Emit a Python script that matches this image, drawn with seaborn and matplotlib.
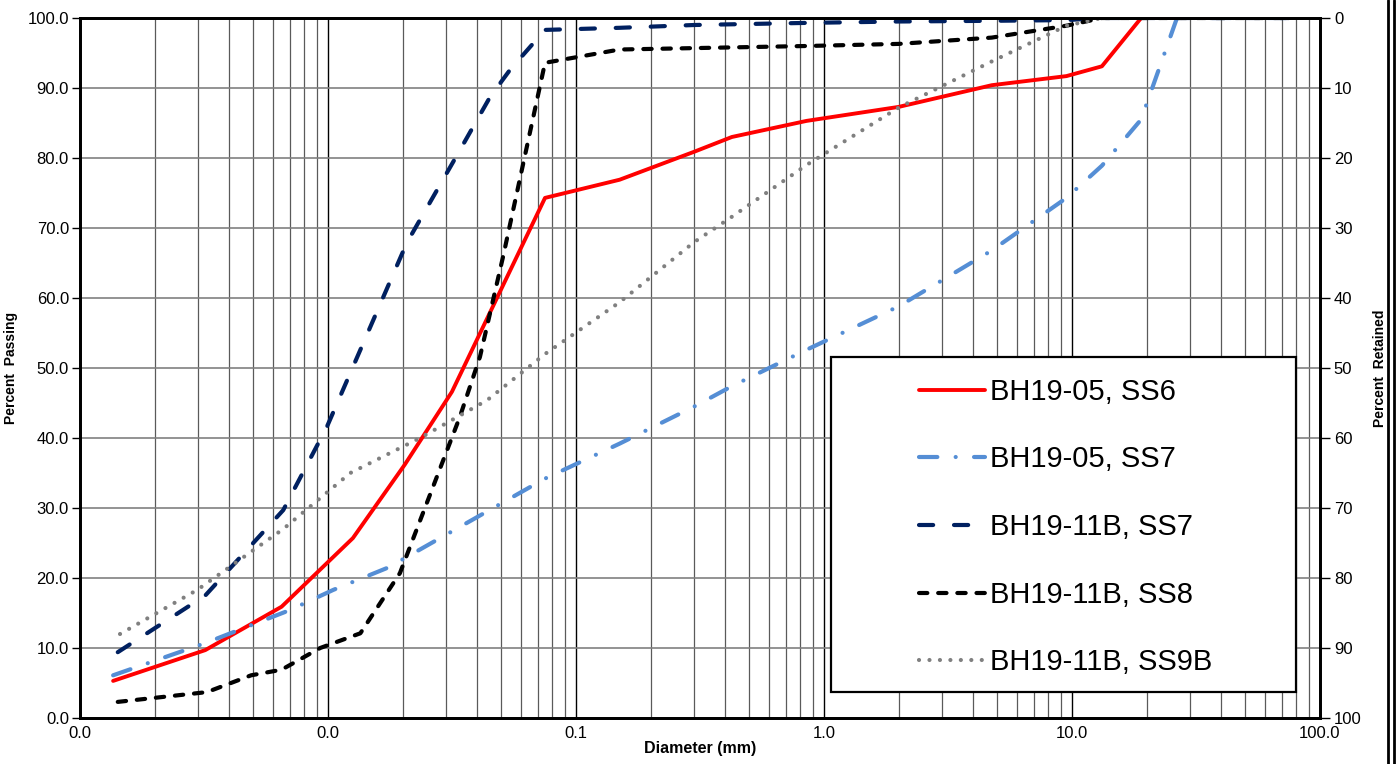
import numpy as np
import pandas as pd
import seaborn as sns
import matplotlib
matplotlib.use("Agg")
import matplotlib.pyplot as plt
from matplotlib.patches import Rectangle
from matplotlib.lines import Line2D
from matplotlib.ticker import FixedLocator, LogLocator, NullFormatter

# # Data

sieve_d = [0.15, 0.3, 0.425, 0.85, 2.0, 4.75, 9.5, 13.2, 19.0, 26.5, 37.5, 53.0, 75.0]

ss6_d = [0.00136, 0.0032, 0.0065, 0.0126, 0.0204, 0.0316, 0.075] + sieve_d
ss6_p = [5.3, 9.7, 15.9, 25.7, 36.2, 46.6, 74.3,
         76.9, 80.9, 83.0, 85.3, 87.3, 90.4, 91.7, 93.1, 100, 100, 100, 100, 100]

ss7_d = [0.00136, 0.0032, 0.007, 0.0105, 0.0175, 0.075] + sieve_d
ss7_p = [6.1, 10.7, 15.4, 18.3, 21.5, 34.2,
         39.2, 44.5, 47.4, 52.6, 58.8, 66.8, 74.3, 78.9, 85.5, 100, 100, 100, 100]

b11_ss7_d = [0.00142, 0.0032, 0.0066, 0.0099, 0.0208, 0.034, 0.045, 0.0542, 0.075] + sieve_d
b11_ss7_p = [9.4, 17.5, 29.7, 41.6, 67.9, 81.1, 88.7, 92.6, 98.3,
             98.6, 99.0, 99.1, 99.3, 99.5, 99.6, 99.7, 100, 100, 100, 100, 100, 100]

b11_ss8_d = [0.00142, 0.00325, 0.0049, 0.0065, 0.0093, 0.0135, 0.0195, 0.034, 0.041,
             0.0508, 0.075] + sieve_d
b11_ss8_p = [2.3, 3.7, 6.1, 6.9, 10.0, 12.1, 20.7, 43.0, 51.6, 65.9, 93.6,
             95.5, 95.7, 95.8, 96.0, 96.3, 97.2, 98.9, 100, 100, 100, 100, 100, 100]

b11_ss9b_d = [0.00145, 0.00297, 0.0066, 0.0123, 0.0235, 0.0438, 0.075] + sieve_d
b11_ss9b_p = [12.0, 18.3, 27.0, 35.0, 40.0, 45.4, 52.0,
              59.4, 68.0, 71.6, 79.0, 87.2, 93.8, 98.9, 100, 100, 100, 100, 100, 100]

labels = ["BH19-05, SS6", "BH19-05, SS7", "BH19-11B, SS7", "BH19-11B, SS8", "BH19-11B, SS9B"]
diams = [ss6_d, ss7_d, b11_ss7_d, b11_ss8_d, b11_ss9b_d]
passing = [ss6_p, ss7_p, b11_ss7_p, b11_ss8_p, b11_ss9b_p]

colors = ["#ff0000", "#558ed5", "#002060", "#000000", "#808080"]
widths = [2.8, 3.0, 3.0, 3.0, 3.0]
# dash patterns in units of line width (None = solid)
dash_styles = [None, (4.4, 4.4, 0.01, 4.4), (3.4, 5.0), (2.0, 2.6), (0.01, 2.5)]

xticks = [0.001, 0.01, 0.1, 1, 10, 100]
xtick_labels = ["0.0", "0.0", "0.1", "1.0", "10.0", "100.0"]
yticks = list(range(0, 101, 10))

# # Plot

sns.set_style("ticks")
plt.rcParams['font.family'] = ['Liberation Sans', 'DejaVu Sans']
plt.rcParams.update({"text.color": "black", "axes.labelcolor": "black",
                     "xtick.color": "black", "ytick.color": "black"})

fig = plt.figure(figsize=(13.96, 7.64), dpi=100)
ax = fig.add_axes([80 / 1396, 1 - 718 / 764, 1240 / 1396, 700 / 764])

for d, p, lab, c, lw, ds in zip(diams, passing, labels, colors, widths, dash_styles):
    df = pd.DataFrame({"d": d, "p": p})
    sns.lineplot(data=df, x="d", y="p", ax=ax, color=c, lw=lw, label=lab,
                 estimator=None, sort=False)
    line = ax.lines[-1]
    if ds is not None:
        line.set_dashes(ds)
        line.set_dash_capstyle("round")

ax.set_xscale("log")
ax.set_xlim(0.001, 100)
ax.set_ylim(0, 100)

ax.xaxis.set_major_locator(FixedLocator(xticks))
ax.set_xticklabels(xtick_labels)
ax.xaxis.set_minor_locator(LogLocator(base=10, subs=np.arange(2, 10)))
ax.xaxis.set_minor_formatter(NullFormatter())
ax.set_yticks(yticks)
ax.set_yticklabels([f"{v:.1f}" for v in yticks])

ax.grid(which="major", axis="x", color="black", lw=1.0)
ax.grid(which="minor", axis="x", color="#5a5a5a", lw=0.9)
ax.grid(which="major", axis="y", color="#808080", lw=1.2)

ax.tick_params(axis="x", which="both", length=0, labelsize=12, pad=6)
ax.tick_params(axis="y", length=6, width=1, labelsize=12, pad=2)
for s in ax.spines.values():
    s.set_linewidth(2)
    s.set_color("black")

ax.set_xlabel("Diameter (mm)", fontsize=11.5, fontweight="bold", labelpad=0)
ax.set_ylabel("Percent  Passing", fontsize=10, fontweight="bold", labelpad=7)

ax2 = ax.twinx()
ax2.set_ylim(100, 0)
ax2.set_yticks(yticks)
ax2.set_yticklabels([str(v) for v in yticks])
ax2.tick_params(axis="y", length=7, width=1, labelsize=12, pad=3)
for s in ax2.spines.values():
    s.set_linewidth(2)
    s.set_color("black")
ax2.set_ylabel("Percent  Retained", fontsize=10, fontweight="bold", labelpad=8)

# legend box
box = Rectangle((0.606, 0.037), 0.375, 0.479, transform=ax.transAxes,
                facecolor="white", edgecolor="black", lw=1.6, zorder=4.5)
ax.add_patch(box)
leg = ax.legend(loc="upper left", bbox_to_anchor=(0.677, 0.486), frameon=False,
                fontsize=21, handlelength=2.25, handletextpad=0.17,
                labelspacing=1.36, borderpad=0, borderaxespad=0)
leg.set_zorder(6)

# double border at the right edge of the page
for xf in (1387.5 / 1396, 1393.5 / 1396):
    fig.add_artist(Line2D([xf, xf], [0, 1], transform=fig.transFigure,
                          color="black", lw=2))

fig.savefig("out.png", dpi=100)
